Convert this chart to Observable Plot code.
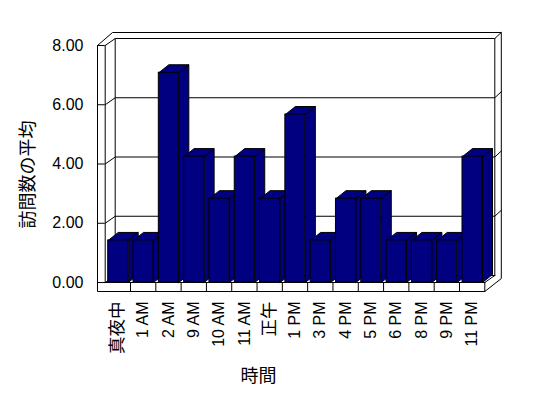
<!DOCTYPE html>
<html><head><meta charset="utf-8">
<script src="https://cdn.jsdelivr.net/npm/d3@7"></script>
<script src="https://cdn.jsdelivr.net/npm/@observablehq/plot@0.6"></script>
<style>body{margin:0;background:#fff}</style>
</head><body><div id="chart"></div>
<script>
const categories = ["真夜中","1 AM","2 AM","9 AM","10 AM","11 AM","正午","1 PM","3 PM","4 PM","5 PM","6 PM","8 PM","9 PM","11 PM"];
const values = [1.42,1.42,7.08,4.25,2.83,4.25,2.83,5.67,1.42,2.83,2.83,1.42,1.42,1.42,4.25];
const yTicks = [0,2,4,6,8];
const xTitle = "時間";
const yTitle = "訪問数の平均";

const W = 548, H = 398, ML = 104.7, MR = 63.7, MT = 45, MB = 116;
const n = categories.length, ymax = yTicks[yTicks.length - 1];
const kx = n / (W - ML - MR);      // data units per pixel (x)
const ky = ymax / (H - MT - MB);   // data units per pixel (y)
const DEPTH_X = 10, DEPTH_Y = 8;   // bar depth in px
const WALL_X = 10, WALL_Y = 7;     // chart depth in px
const FRONT = -7.7, FLOOR = 9, OUT_X = 16.5, OUT_Y = 13;

// point at data anchor plus a pixel offset (oy positive = down)
const P = (xd, ox, yd, oy) => ({x: xd + ox * kx, y: yd - oy * ky});

let sid = 0;
const frame = [];
function add(...pts) { const id = sid++; for (const p of pts) frame.push({...p, id}); }
for (const t of yTicks) {
  if (t === 0) add(P(0, 0, t, 0), P(0, WALL_X, t, -WALL_Y), P(n, WALL_X, t, -WALL_Y));
  else add(P(0, 0, t, 0), P(0, WALL_X, t, -WALL_Y), P(n, WALL_X, t, -WALL_Y), P(n, OUT_X, t, -OUT_Y));
}
add(P(0, WALL_X, 0, -WALL_Y), P(0, WALL_X, ymax, -WALL_Y));
add(P(n, WALL_X, 0, -WALL_Y), P(n, WALL_X, ymax, -WALL_Y));
add(P(0, FRONT, ymax, 0), P(0, FRONT + 15, ymax, -OUT_Y), P(n, OUT_X, ymax, -OUT_Y),
    P(n, OUT_X, 0, -4), P(n, 0, 0, FLOOR), P(0, FRONT, 0, FLOOR), P(0, FRONT, ymax, 0));
add(P(0, 0, 0, 0), P(0, 0, ymax, 0));
add(P(0, FRONT, 0, 0), P(n, 0, 0, 0));
add(P(n, 0, 0, 0), P(n, 0, 0, FLOOR));
add(P(n, 0, 0, 0), P(n, WALL_X, 0, -WALL_Y));
for (let k = 1; k < n; k++) add(P(k, 0, 0, 0), P(k, 0, 0, FLOOR));

const bars = values.map((v, i) => ({i, v, x0: i + 3 * kx, x1: i + 1 - 2.3 * kx}));
const dxd = DEPTH_X * kx, dyd = DEPTH_Y * ky;
const tops = [], sides = [];
for (const b of bars) {
  for (const [x, y] of [[b.x0, b.v], [b.x1, b.v], [b.x1 + dxd, b.v + dyd], [b.x0 + dxd, b.v + dyd], [b.x0, b.v]])
    tops.push({x, y, id: b.i});
  for (const [x, y] of [[b.x1, 0], [b.x1, b.v], [b.x1 + dxd, b.v + dyd], [b.x1 + dxd, dyd], [b.x1, 0]])
    sides.push({x, y, id: b.i});
}

const NAVY = "#000080";
const isCJK = s => /[^\x00-\x7f]/.test(s);
const plot = Plot.plot({
  width: W, height: H,
  marginLeft: ML, marginRight: MR, marginTop: MT, marginBottom: MB,
  x: {domain: [0, n], axis: null},
  y: {domain: [0, ymax], axis: null},
  style: {fontFamily: "'Liberation Sans', Arial, 'Noto Sans CJK JP', sans-serif", fontSize: "16px", background: "#fff", color: "#000"},
  marks: [
    Plot.line(frame, {x: "x", y: "y", z: "id", stroke: "black", strokeWidth: 1}),
    Plot.line(sides, {x: "x", y: "y", z: "id", fill: NAVY, stroke: "black", strokeWidth: 1}),
    Plot.line(tops, {x: "x", y: "y", z: "id", fill: NAVY, stroke: "black", strokeWidth: 1}),
    Plot.rect(bars, {x1: "x0", x2: "x1", y1: () => 0, y2: "v", fill: NAVY, stroke: "black", strokeWidth: 1}),
    Plot.axisY({ticks: yTicks, tickFormat: d => d.toFixed(2), tickSize: 7.7, tickPadding: 14, fontSize: 16}),
    Plot.text(categories, {x: (d, i) => i + 0.5, y: () => 0, dy: 19, rotate: -90, textAnchor: "end", lineAnchor: "middle",
      fontSize: d => isCJK(d) ? 17.5 : 16}),
    Plot.text([xTitle], {frameAnchor: "bottom", textAnchor: "middle", lineAnchor: "middle", dx: -36.5, dy: 93.5, fontSize: 18}),
    Plot.text([yTitle], {frameAnchor: "left", rotate: -90, textAnchor: "middle", lineAnchor: "middle", dx: -76.7, dy: 10.5, fontSize: 18})
  ]
});
document.getElementById("chart").append(plot);
</script>
</body></html>
